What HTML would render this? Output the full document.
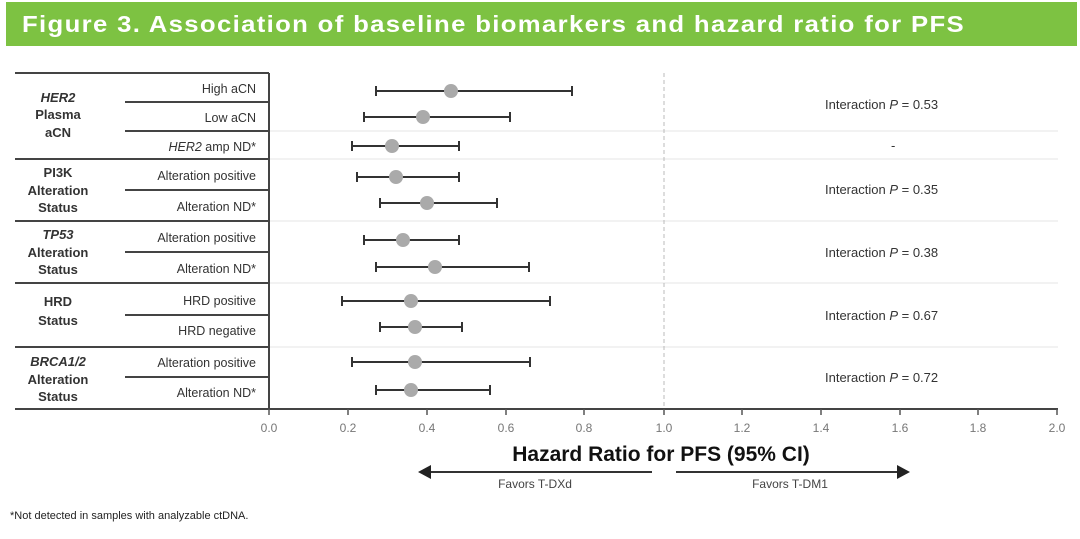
<!DOCTYPE html>
<html><head><meta charset="utf-8"><style>
body{margin:0;width:1080px;height:534px;background:#fff;overflow:hidden;font-family:"Liberation Sans",sans-serif}
</style></head><body>
<svg width="1080" height="534" xmlns="http://www.w3.org/2000/svg" font-family="Liberation Sans, sans-serif">
<rect x="6" y="2" width="1071" height="44" fill="#7dc242"/>
<text x="22" y="32" fill="#fff" font-size="23" font-weight="bold" letter-spacing="1.2" textLength="943" lengthAdjust="spacingAndGlyphs">Figure 3. Association of baseline biomarkers and hazard ratio for PFS</text>
<g stroke="#e4e4e4" stroke-width="1">
<line x1="269" y1="131" x2="1058" y2="131"/><line x1="269" y1="159" x2="1058" y2="159"/><line x1="269" y1="221" x2="1058" y2="221"/><line x1="269" y1="283" x2="1058" y2="283"/><line x1="269" y1="347" x2="1058" y2="347"/>
</g>
<line x1="664" y1="73" x2="664" y2="409" stroke="#bbb" stroke-dasharray="4,3"/>
<g stroke="#444" stroke-width="2">
<line x1="15" y1="73" x2="269" y2="73"/><line x1="15" y1="159" x2="269" y2="159"/><line x1="15" y1="221" x2="269" y2="221"/><line x1="15" y1="283" x2="269" y2="283"/><line x1="15" y1="347" x2="269" y2="347"/><line x1="15" y1="409" x2="269" y2="409"/>
<line x1="125" y1="102" x2="269" y2="102"/><line x1="125" y1="131" x2="269" y2="131"/><line x1="125" y1="190" x2="269" y2="190"/><line x1="125" y1="252" x2="269" y2="252"/><line x1="125" y1="315" x2="269" y2="315"/><line x1="125" y1="377" x2="269" y2="377"/>
<line x1="269" y1="73" x2="269" y2="409"/>
<line x1="269" y1="409" x2="1058" y2="409"/>
</g>
<g stroke="#555" stroke-width="1.5">
<line x1="269" y1="409" x2="269" y2="415"/><line x1="348" y1="409" x2="348" y2="415"/><line x1="427" y1="409" x2="427" y2="415"/><line x1="506" y1="409" x2="506" y2="415"/><line x1="584" y1="409" x2="584" y2="415"/><line x1="664" y1="409" x2="664" y2="415"/><line x1="742" y1="409" x2="742" y2="415"/><line x1="821" y1="409" x2="821" y2="415"/><line x1="900" y1="409" x2="900" y2="415"/><line x1="978" y1="409" x2="978" y2="415"/><line x1="1057" y1="409" x2="1057" y2="415"/>
</g>
<g fill="#777" font-size="12" text-anchor="middle">
<text x="269" y="432">0.0</text><text x="348" y="432">0.2</text><text x="427" y="432">0.4</text><text x="506" y="432">0.6</text><text x="584" y="432">0.8</text><text x="664" y="432">1.0</text><text x="742" y="432">1.2</text><text x="821" y="432">1.4</text><text x="900" y="432">1.6</text><text x="978" y="432">1.8</text><text x="1057" y="432">2.0</text>
</g>
<g font-size="12.5" fill="#333" text-anchor="end">
<text x="256" y="93">High aCN</text><text x="256" y="122">Low aCN</text><text x="256" y="151"><tspan font-style="italic">HER2</tspan> amp ND*</text>
<text x="256" y="180">Alteration positive</text><text x="256" y="211">Alteration ND*</text>
<text x="256" y="242">Alteration positive</text><text x="256" y="273">Alteration ND*</text>
<text x="256" y="305">HRD positive</text><text x="256" y="335">HRD negative</text>
<text x="256" y="367">Alteration positive</text><text x="256" y="397">Alteration ND*</text>
</g>
<g font-size="13" font-weight="bold" fill="#333" text-anchor="middle">
<text x="58" y="102" font-style="italic">HER2</text><text x="58" y="119">Plasma</text><text x="58" y="137">aCN</text>
<text x="58" y="177">PI3K</text><text x="58" y="195">Alteration</text><text x="58" y="212">Status</text>
<text x="58" y="239" font-style="italic">TP53</text><text x="58" y="257">Alteration</text><text x="58" y="274">Status</text>
<text x="58" y="306">HRD</text><text x="58" y="325">Status</text>
<text x="58" y="366" font-style="italic">BRCA1/2</text><text x="58" y="384">Alteration</text><text x="58" y="401">Status</text>
</g>
<g stroke="#333" stroke-width="2">
<line x1="376" y1="91" x2="572" y2="91"/><line x1="376" y1="86" x2="376" y2="96"/><line x1="572" y1="86" x2="572" y2="96"/>
<line x1="364" y1="117" x2="510" y2="117"/><line x1="364" y1="112" x2="364" y2="122"/><line x1="510" y1="112" x2="510" y2="122"/>
<line x1="352" y1="146" x2="459" y2="146"/><line x1="352" y1="141" x2="352" y2="151"/><line x1="459" y1="141" x2="459" y2="151"/>
<line x1="357" y1="177" x2="459" y2="177"/><line x1="357" y1="172" x2="357" y2="182"/><line x1="459" y1="172" x2="459" y2="182"/>
<line x1="380" y1="203" x2="497" y2="203"/><line x1="380" y1="198" x2="380" y2="208"/><line x1="497" y1="198" x2="497" y2="208"/>
<line x1="364" y1="240" x2="459" y2="240"/><line x1="364" y1="235" x2="364" y2="245"/><line x1="459" y1="235" x2="459" y2="245"/>
<line x1="376" y1="267" x2="529" y2="267"/><line x1="376" y1="262" x2="376" y2="272"/><line x1="529" y1="262" x2="529" y2="272"/>
<line x1="342" y1="301" x2="550" y2="301"/><line x1="342" y1="296" x2="342" y2="306"/><line x1="550" y1="296" x2="550" y2="306"/>
<line x1="380" y1="327" x2="462" y2="327"/><line x1="380" y1="322" x2="380" y2="332"/><line x1="462" y1="322" x2="462" y2="332"/>
<line x1="352" y1="362" x2="530" y2="362"/><line x1="352" y1="357" x2="352" y2="367"/><line x1="530" y1="357" x2="530" y2="367"/>
<line x1="376" y1="390" x2="490" y2="390"/><line x1="376" y1="385" x2="376" y2="395"/><line x1="490" y1="385" x2="490" y2="395"/>
</g>
<g fill="#aaa">
<circle cx="451" cy="91" r="7"/><circle cx="423" cy="117" r="7"/><circle cx="392" cy="146" r="7"/><circle cx="396" cy="177" r="7"/><circle cx="427" cy="203" r="7"/><circle cx="403" cy="240" r="7"/><circle cx="435" cy="267" r="7"/><circle cx="411" cy="301" r="7"/><circle cx="415" cy="327" r="7"/><circle cx="415" cy="362" r="7"/><circle cx="411" cy="390" r="7"/>
</g>
<g font-size="13" fill="#333">
<text x="825" y="109">Interaction <tspan font-style="italic">P</tspan> = 0.53</text>
<text x="891" y="150">-</text>
<text x="825" y="194">Interaction <tspan font-style="italic">P</tspan> = 0.35</text>
<text x="825" y="257">Interaction <tspan font-style="italic">P</tspan> = 0.38</text>
<text x="825" y="320">Interaction <tspan font-style="italic">P</tspan> = 0.67</text>
<text x="825" y="382">Interaction <tspan font-style="italic">P</tspan> = 0.72</text>
</g>
<text x="661" y="461" font-size="21" font-weight="bold" fill="#111" text-anchor="middle">Hazard Ratio for PFS (95% CI)</text>
<g stroke="#333" stroke-width="2">
<line x1="428" y1="472" x2="652" y2="472"/><line x1="676" y1="472" x2="900" y2="472"/>
</g>
<polygon points="418,472 431,465 431,479" fill="#222"/>
<polygon points="910,472 897,465 897,479" fill="#222"/>
<text x="535" y="488" font-size="12" fill="#444" text-anchor="middle">Favors T-DXd</text>
<text x="790" y="488" font-size="12" fill="#444" text-anchor="middle">Favors T-DM1</text>
<text x="10" y="519" font-size="11" fill="#222">*Not detected in samples with analyzable ctDNA.</text>
</svg>
</body></html>
